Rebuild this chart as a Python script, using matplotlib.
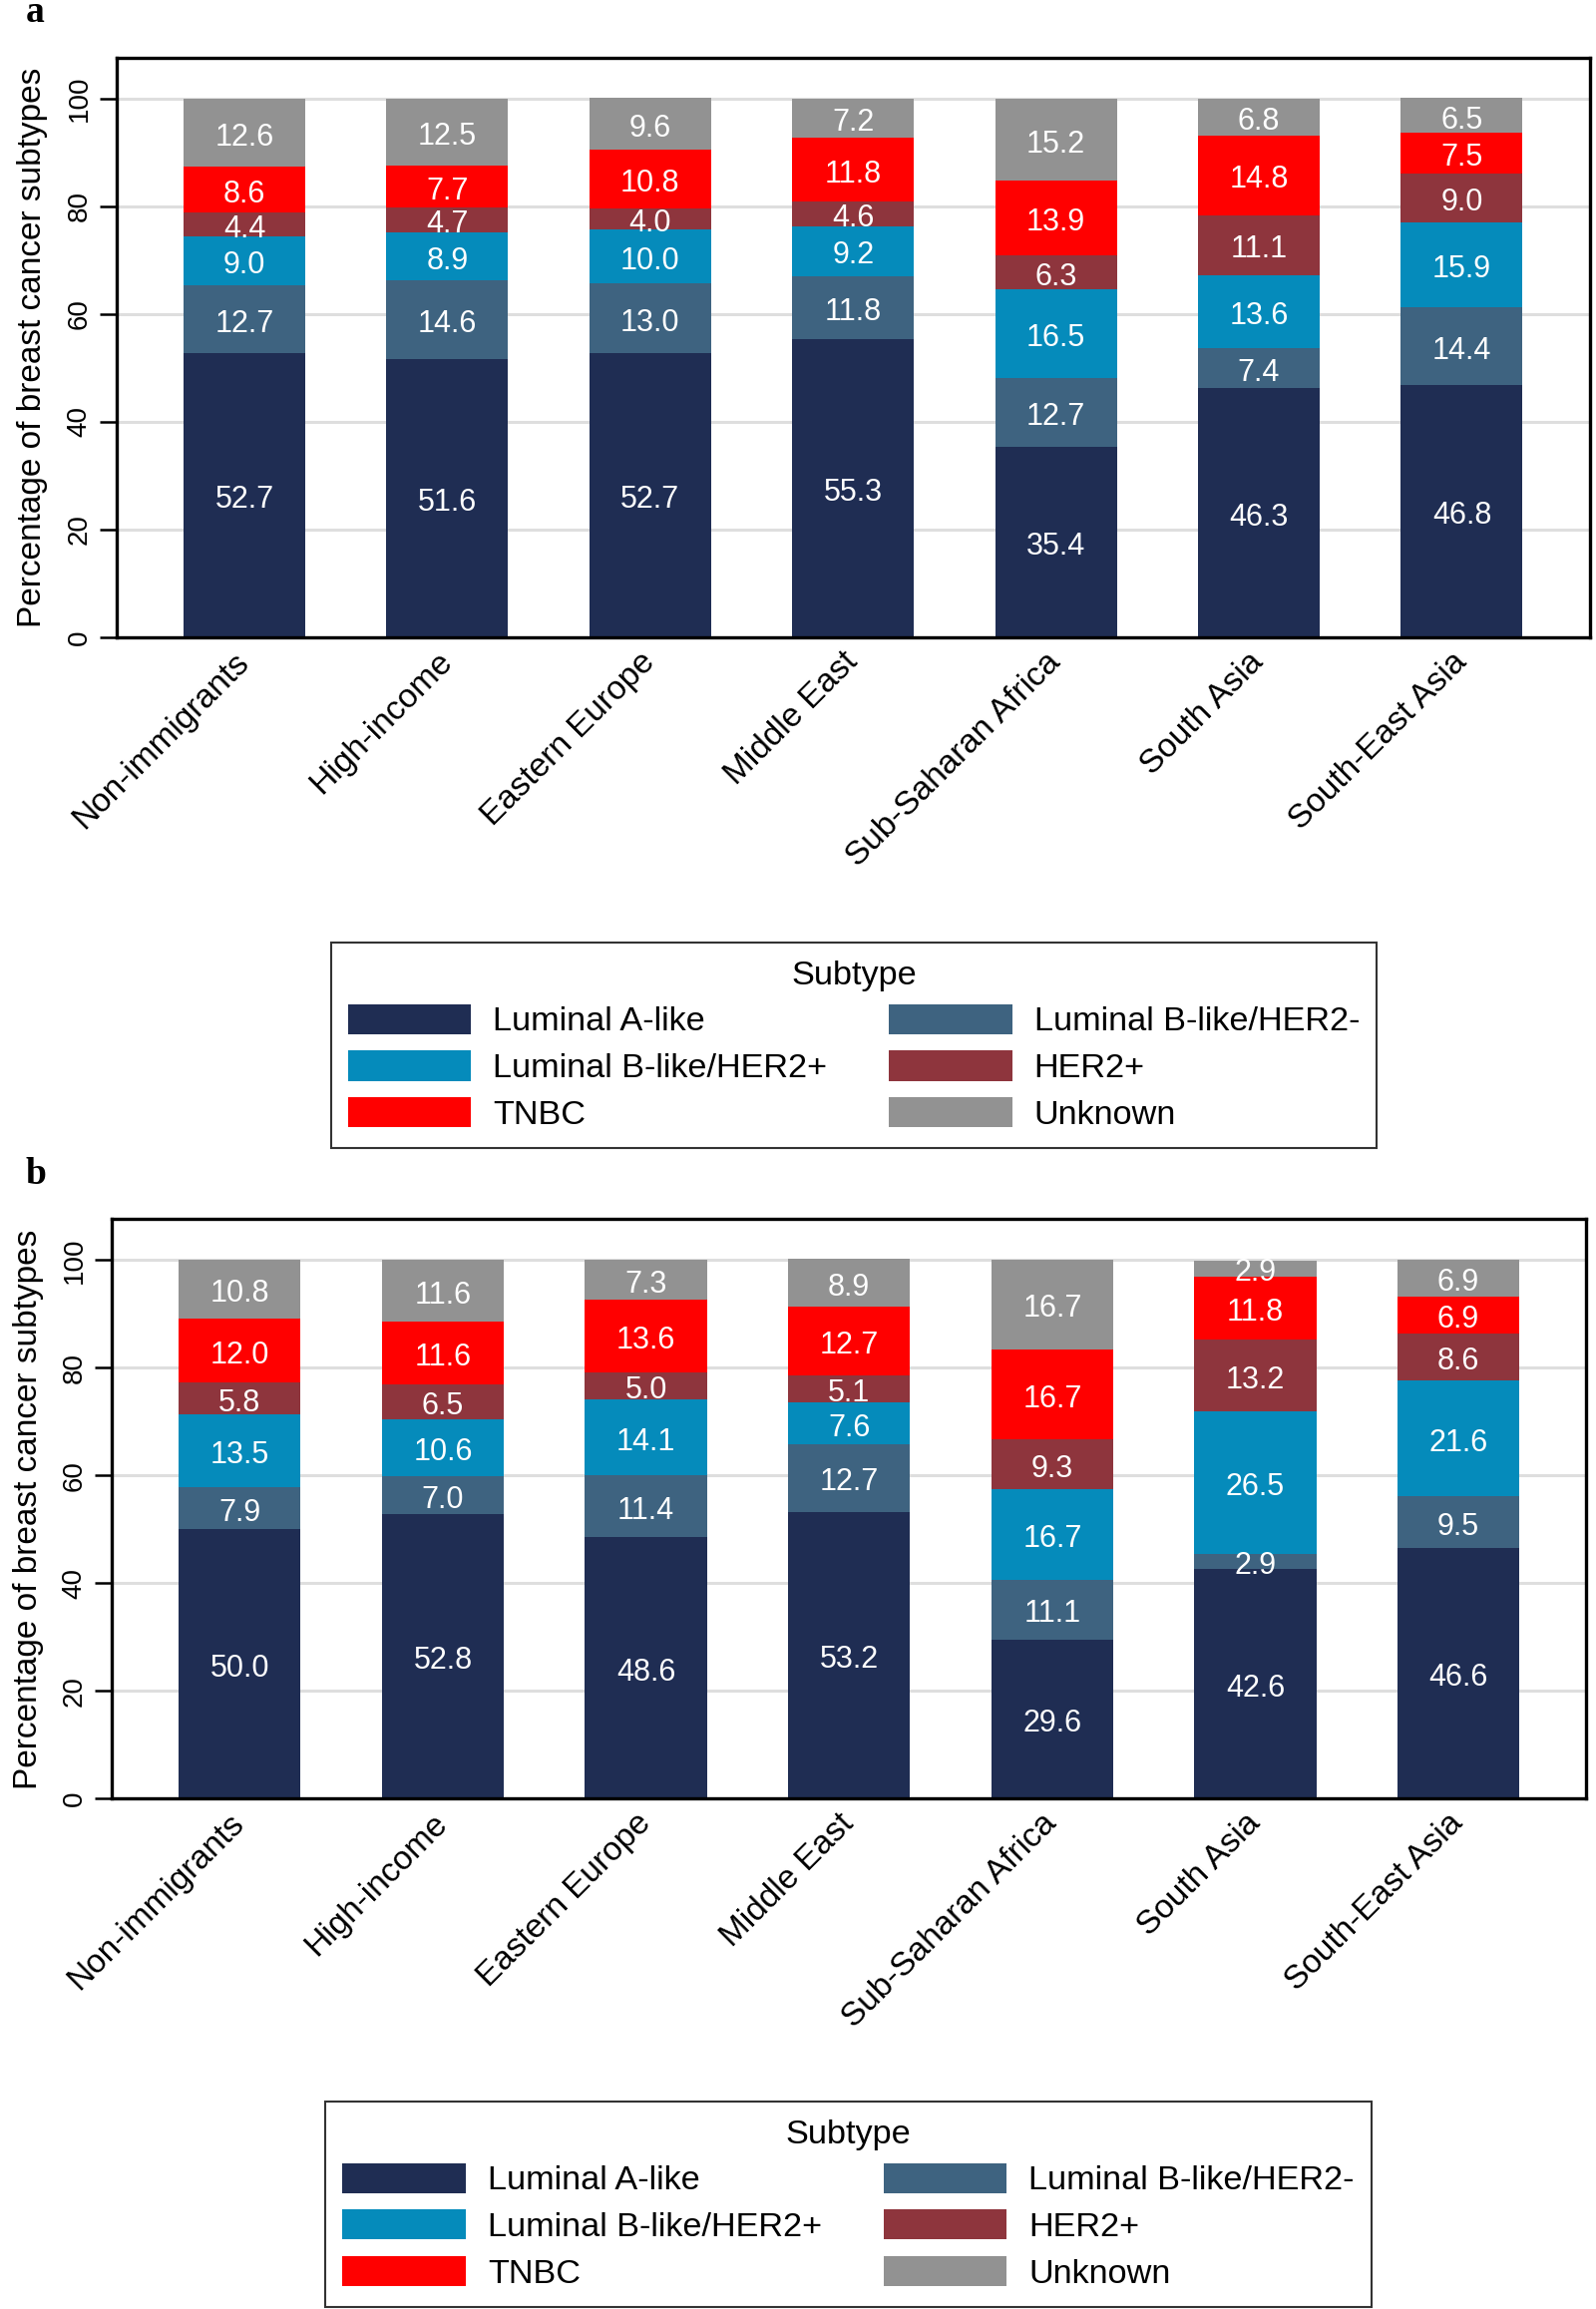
import matplotlib
matplotlib.use('Agg')
import matplotlib.pyplot as plt
import matplotlib.transforms as mtransforms
import numpy as np
from matplotlib.patches import Patch, Rectangle

plt.rcParams['font.family'] = ['Liberation Sans', 'DejaVu Sans']

regions = ['Non-immigrants', 'High-income', 'Eastern Europe', 'Middle East',
           'Sub-Saharan Africa', 'South Asia', 'South-East Asia']
subtypes = ['Luminal A-like', 'Luminal B-like/HER2-', 'Luminal B-like/HER2+',
            'HER2+', 'TNBC', 'Unknown']
colors = ['#1f2d53', '#3e6380', '#058bbb', '#8e353d', '#ff0000', '#929292']

# panel a
a_lum_a = [52.7, 51.6, 52.7, 55.3, 35.4, 46.3, 46.8]
a_lum_b_neg = [12.7, 14.6, 13.0, 11.8, 12.7, 7.4, 14.4]
a_lum_b_pos = [9.0, 8.9, 10.0, 9.2, 16.5, 13.6, 15.9]
a_her2 = [4.4, 4.7, 4.0, 4.6, 6.3, 11.1, 9.0]
a_tnbc = [8.6, 7.7, 10.8, 11.8, 13.9, 14.8, 7.5]
a_unknown = [12.6, 12.5, 9.6, 7.2, 15.2, 6.8, 6.5]

# panel b
b_lum_a = [50.0, 52.8, 48.6, 53.2, 29.6, 42.6, 46.6]
b_lum_b_neg = [7.9, 7.0, 11.4, 12.7, 11.1, 2.9, 9.5]
b_lum_b_pos = [13.5, 10.6, 14.1, 7.6, 16.7, 26.5, 21.6]
b_her2 = [5.8, 6.5, 5.0, 5.1, 9.3, 13.2, 8.6]
b_tnbc = [12.0, 11.6, 13.6, 12.7, 16.7, 11.8, 6.9]
b_unknown = [10.8, 11.6, 7.3, 8.9, 16.7, 2.9, 6.9]


def draw_panel(ax, series):
    x = np.arange(len(regions))
    bottom = np.zeros(len(regions))
    clip = Rectangle((-1, 0), 9, 100, transform=ax.transData)
    # labels sit a little below the segment centre in the original
    shift = mtransforms.ScaledTranslation(0, -3.3 / 72, fig.dpi_scale_trans)
    for vals, col in zip(series, colors):
        vals = np.array(vals)
        ax.bar(x, vals, 0.6, bottom=bottom, color=col, zorder=2)
        for xi, b, v in zip(x, bottom, vals):
            t = ax.text(xi, b + v / 2, f'{v:.1f}', ha='center', va='center',
                        color='white', fontsize=22, zorder=3,
                        transform=ax.transData + shift)
            t.set_clip_path(clip)
        bottom += vals
    ax.set_xlim(-0.63, 6.63)
    ax.set_ylim(0, 107.6)
    ax.set_yticks([0, 20, 40, 60, 80, 100])
    ax.yaxis.grid(True, color='#dedede', linewidth=2.2)
    ax.set_axisbelow(True)
    ax.set_xticks(x)
    ax.set_xticklabels(regions, rotation=45, ha='right', va='center',
                       rotation_mode='anchor', fontsize=24)
    ax.tick_params(axis='x', length=0, pad=14.5)
    ax.tick_params(axis='y', length=12.5, width=1.8, labelsize=20, pad=5)
    for lbl in ax.get_yticklabels():
        lbl.set_rotation(90)
        lbl.set_va('center')
    ax.set_ylabel('Percentage of breast cancer subtypes', fontsize=24, labelpad=13)
    for s in ax.spines.values():
        s.set_linewidth(2.4)
        s.set_color('black')


fig = plt.figure(figsize=(16, 23.15), dpi=100)
ax_a = fig.add_axes([0.073, 0.724, 0.923, 0.251])
ax_b = fig.add_axes([0.070, 0.221, 0.924, 0.251])

draw_panel(ax_a, [a_lum_a, a_lum_b_neg, a_lum_b_pos, a_her2, a_tnbc, a_unknown])
draw_panel(ax_b, [b_lum_a, b_lum_b_neg, b_lum_b_pos, b_her2, b_tnbc, b_unknown])

# legend is filled row by row in the original
order = [0, 2, 4, 1, 3, 5]
handles = [Patch(facecolor=colors[i], edgecolor='none') for i in order]
labels = [subtypes[i] for i in order]
for cx, top in [(0.535, 0.599), (0.5316, 0.0971)]:
    leg = fig.legend(handles, labels, title='Subtype', ncol=2,
                     loc='upper center', bbox_to_anchor=(cx, top),
                     fontsize=24.7, title_fontsize=24.7, frameon=True,
                     fancybox=False, edgecolor='black', handlelength=3.6,
                     handleheight=0.97, handletextpad=0.64, columnspacing=1.8,
                     labelspacing=0.38, borderpad=0.5)
    leg.get_frame().set_linewidth(1.5)

fig.text(0.016, 0.9944, 'a', fontsize=27, fontweight='bold',
         family=['Liberation Serif', 'DejaVu Serif'], va='center')
fig.text(0.016, 0.4915, 'b', fontsize=27, fontweight='bold',
         family=['Liberation Serif', 'DejaVu Serif'], va='center')

fig.savefig('out.png', dpi=100)
